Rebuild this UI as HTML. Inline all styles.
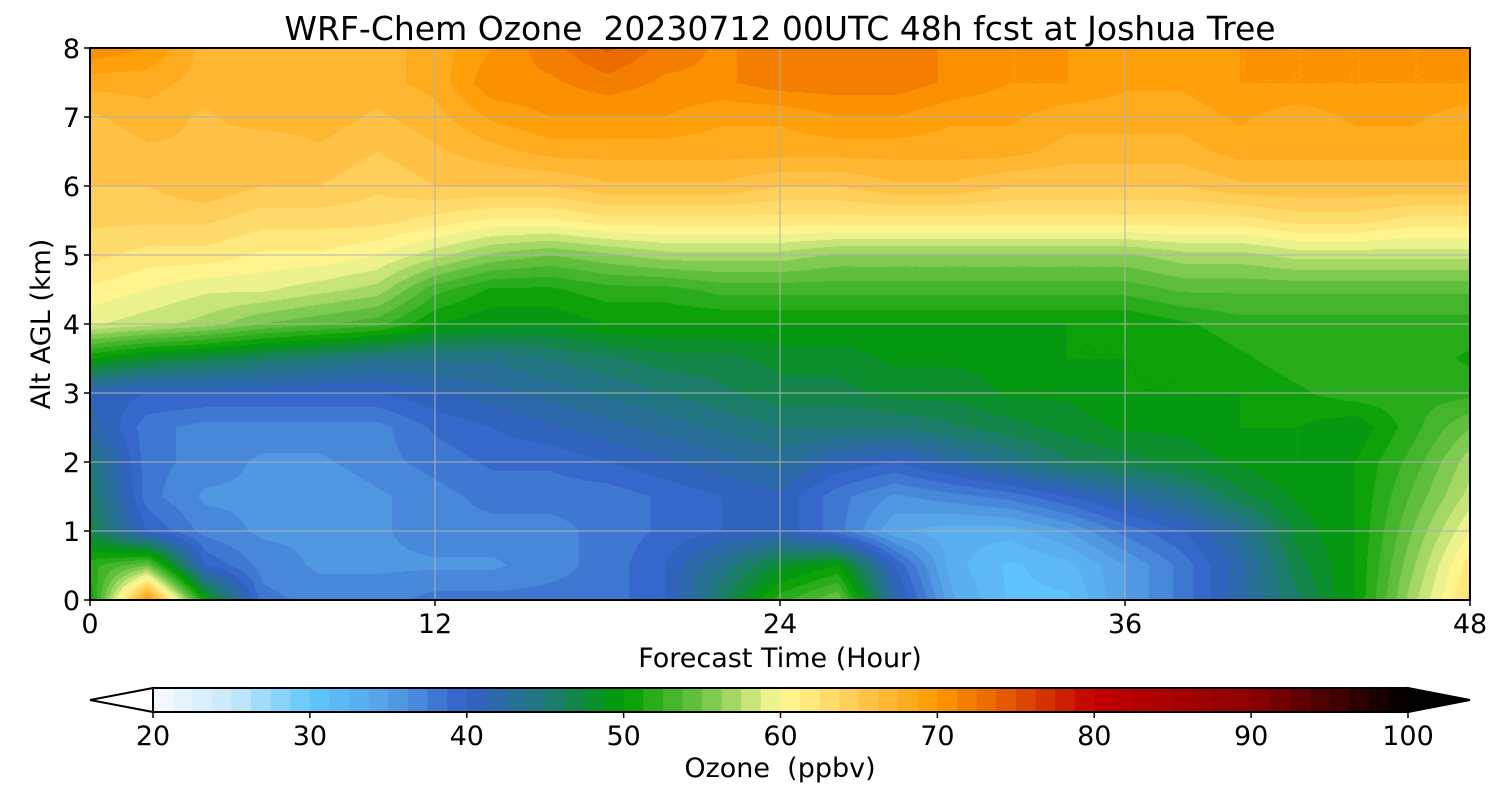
<!DOCTYPE html>
<html><head><meta charset="utf-8">
<style>
body{margin:0;background:#fff;width:1500px;height:800px;overflow:hidden;font-family:"DejaVu Sans",sans-serif;}
#wrap{position:relative;width:1500px;height:800px;}
canvas{position:absolute;}
svg{position:absolute;left:0;top:0;}
text{white-space:pre;}
</style></head><body>
<div id="wrap">
<canvas id="cv" width="1380" height="552" style="left:90px;top:48px"></canvas>
<svg id="sv" width="1500" height="800"></svg>
</div>
<script>
const hours=[0,2,4,6,8,10,12,14,16,18,20,22,24,26,28,30,32,34,36,38,40,42,44,46,48];
const alts=[0,0.5,1,1.5,2,2.5,3,3.5,4,4.5,5,5.5,6,6.5,7,7.5,8];
const z00=[50,70,50,38,37,37,38,38,38,38,40,46,52,55,42,34,31,31,35,38,42,46,50,57,63];
const z05=[52,55,40,37,36,36,36,36,37,38,40,44,48,50,40,33,31,32,35,38,42,47,50,56,62];
const z10=[47,40,37,36,36,36,37,37,37,38,39,40,41,38,34,33,33,35,38,40,43,48,50,55,60];
const z15=[46,38,36,36,35,36,37,38,38,38,39,40,41,38,36,37,38,40,42,44,47,49,50,54,58];
const z20=[45,38,37,36,36,37,38,39,39,40,41,42,43,41,40,42,44,46,47,48,49,50,50,53,57];
const z25=[42,38,37,37,37,37,39,40,41,42,43,44,45,45,45,46,47,48,49,49,50,50,49,52,55];
const z30=[41,40,40,40,40,40,41,42,43,44,45,46,47,47,48,48,49,49,50,50,50,51,52,52,52];
const z35=[50,48,47,46,45,44,44,44,45,46,47,47,48,48,49,49,49,50,50,50,51,52,52,52,51];
const z40=[59,58,57,55,54,53,50,49,49,50,50,50,50,50,50,50,50,50,50,51,52,52,52,52,52];
const z45=[61,60,59,59,58,57,53,51,51,52,52,53,53,53,53,53,53,53,53,54,54,54,54,54,54];
const z50=[63,62,62,61,61,60,58,56,55,56,57,57,57,56,56,56,56,56,56,57,57,58,58,58,58];
const z55=[64,64,64,63,63,63,62,61,61,62,62,62,62,62,62,62,62,62,62,62,62,63,63,62,62];
const z60=[65,65,66,65,65,64,65,65,65,66,66,66,65,65,66,66,65,65,65,65,66,66,66,66,66];
const z65=[65,66,66,65,66,65,66,67,68,68,68,68,68,68,68,68,68,67,67,67,68,68,68,68,68];
const z70=[66,67,66,67,67,66,67,69,70,70,70,69,69,70,70,69,69,68,68,68,69,68,69,69,68];
const z75=[68,68,67,67,67,67,68,71,71,72,71,71,72,72,72,71,70,70,69,69,70,70,70,70,70];
const z80=[71,70,67,67,67,67,68,70,72,74,72,71,72,72,72,71,70,70,69,69,70,70,70,70,70];
const grid=[z00,z05,z10,z15,z20,z25,z30,z35,z40,z45,z50,z55,z60,z65,z70,z75,z80];
const xTicks=[0,12,24,36,48];
const yTicks=[0,1,2,3,4,5,6,7,8];
const cbTicks=[20,30,40,50,60,70,80,90,100];
const stopV=[20,25,30,35,40,45,50,55,60,65,70,75,80,90,100];
const stopC=[[248,252,255],[200,232,250],[96,200,255],[84,160,230],[50,96,200],[32,120,120],[0,158,0],[110,195,70],[255,250,150],[255,200,80],[255,153,0],[225,80,0],[195,0,0],[140,0,0],[0,0,0]];
const X0=90,X1=1470,Y0=600,Y1=48;
const xs=h=>X0+(h-0)/(48-0)*(X1-X0);
const ys=a=>Y0-(a/8)*(Y0-Y1);
function color(v){
  v=Math.max(20,Math.min(100,v));
  for(let i=0;i<stopV.length-1;i++){
    if(v<=stopV[i+1]){const t=(v-stopV[i])/(stopV[i+1]-stopV[i]);
      return stopC[i].map((c,k)=>Math.round(c+(stopC[i+1][k]-c)*t));}
  }
  return stopC[stopC.length-1];
}
function sample(h,a){
  let i=Math.min(hours.length-2,Math.floor(h/2)),j=Math.min(alts.length-2,Math.floor(a/0.5));
  const tx=(h-hours[i])/(hours[i+1]-hours[i]),ty=(a-alts[j])/(alts[j+1]-alts[j]);
  return grid[j][i]*(1-tx)*(1-ty)+grid[j][i+1]*tx*(1-ty)+grid[j+1][i]*(1-tx)*ty+grid[j+1][i+1]*tx*ty;
}
const cv=document.getElementById('cv'),ctx=cv.getContext('2d');
const W=cv.width,H=cv.height,img=ctx.createImageData(W,H);
for(let py=0;py<H;py++){for(let px=0;px<W;px++){
  const h=(px+0.5)/W*48,a=(H-py-0.5)/H*8;
  const v=sample(h,a);const q=Math.floor(v/1.25)*1.25+0.6;
  const c=color(q);const o=(py*W+px)*4;
  img.data[o]=c[0];img.data[o+1]=c[1];img.data[o+2]=c[2];img.data[o+3]=255;}}
ctx.putImageData(img,0,0);
const sv=document.getElementById('sv');const NS='http://www.w3.org/2000/svg';
function mk(tag,attrs,parent){const e=document.createElementNS(NS,tag);for(const k in attrs)e.setAttribute(k,attrs[k]);(parent||sv).appendChild(e);return e;}
function txt(s,x,y,size,anchor,rot){const e=mk('text',{x:x,y:y,'font-size':size,'text-anchor':anchor||'middle','font-family':'DejaVu Sans, sans-serif',fill:'#000'});if(rot)e.setAttribute('transform','rotate(-90 '+x+' '+y+')');e.textContent=s;return e;}
xTicks.forEach(t=>{const l=mk('line',{x1:xs(t),x2:xs(t),y1:Y1,y2:Y0,stroke:'#b0b0b0','stroke-width':1});


const tk=mk('line',{x1:xs(t),x2:xs(t),y1:Y0,y2:Y0+6,stroke:'#000','stroke-width':1.5});


const lb=txt(String(t),xs(t),Y0+33,27);

});
yTicks.forEach(t=>{const l=mk('line',{x1:X0,x2:X1,y1:ys(t),y2:ys(t),stroke:'#b0b0b0','stroke-width':1});


const tk=mk('line',{x1:X0-6,x2:X0,y1:ys(t),y2:ys(t),stroke:'#000','stroke-width':1.5});


const lb=txt(String(t),X0-10,ys(t)+10,27,'end');

});
const fr=mk('rect',{x:X0,y:Y1,width:X1-X0,height:Y0-Y1,fill:'none',stroke:'#000','stroke-width':2});


const tt=txt('WRF-Chem Ozone  20230712 00UTC 48h fcst at Joshua Tree',780,40,33);


const xt=txt('Forecast Time (Hour)',780,667,27);


const yt=txt('Alt AGL (km)',50,324,27,'middle',true);


const C0=153,C1=1408,CY=688,CH=24;
const cs=v=>C0+(v-20)/80*(C1-C0);
const lt=mk('polygon',{points:`${C0},${CY} 90,${CY+CH/2} ${C0},${CY+CH}`,fill:'#fff',stroke:'#000','stroke-width':2});


for(let v=20;v<100;v+=1.25){const r=mk('rect',{x:cs(v),y:CY,width:cs(v+1.25)-cs(v)+0.5,height:CH,fill:'rgb('+color(v+0.6).join(',')+')'});

}
const rt=mk('polygon',{points:`${C1},${CY} 1470,${CY+CH/2} ${C1},${CY+CH}`,fill:'#000',stroke:'#000','stroke-width':2});


const cf=mk('rect',{x:C0,y:CY,width:C1-C0,height:CH,fill:'none',stroke:'#000','stroke-width':2});


cbTicks.forEach(t=>{const tk=mk('line',{x1:cs(t),x2:cs(t),y1:CY+CH,y2:CY+CH+6,stroke:'#000','stroke-width':1.5});


const lb=txt(String(t),cs(t),CY+CH+33,27);

});
const ct=txt('Ozone  (ppbv)',780,777,27);


</script>
</body></html>
